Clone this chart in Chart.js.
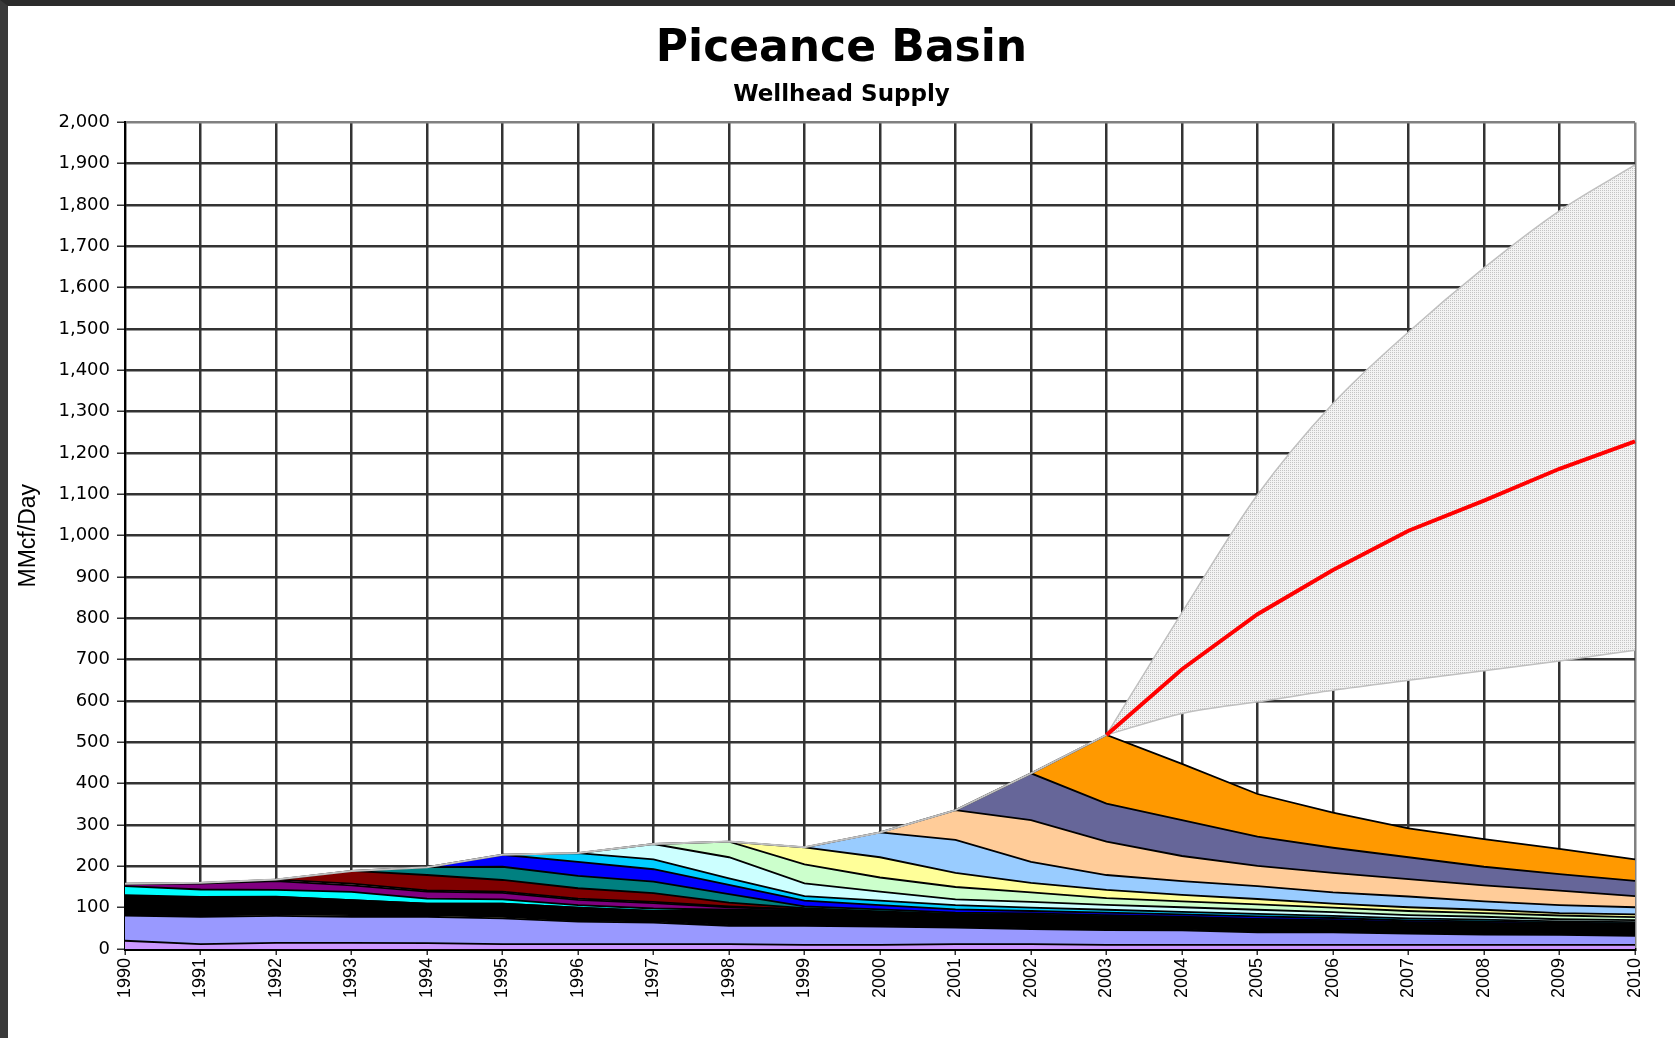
<!DOCTYPE html>
<html>
<head>
<meta charset="utf-8">
<title>Piceance Basin</title>
<script src="https://cdn.jsdelivr.net/npm/chart.js@4.4.1/dist/chart.umd.min.js"></script>
<style>
  html, body { margin: 0; padding: 0; background: #fff; }
  #frame {
    width: 1675px; height: 1038px; box-sizing: border-box;
    border-top: 6px solid #2b2b2b; border-left: 8px solid #3a3a3a;
    background: #fff;
  }
  #wrap { position: relative; width: 1667px; height: 1032px; }
</style>
</head>
<body>
<div id="frame"><div id="wrap"><canvas id="chart"></canvas></div></div>
<script>
// years on the x axis
const years = ['1990', '1991', '1992', '1993', '1994', '1995', '1996', '1997', '1998', '1999', '2000',
               '2001', '2002', '2003', '2004', '2005', '2006', '2007', '2008', '2009', '2010'];

// stacked production layers, bottom to top (MMcf/Day)
const lavender    = [20, 12, 15, 15, 14, 12, 12, 12, 12, 10, 10, 12, 12, 10, 10, 10, 10, 10, 10, 10, 10];
const periwinkle  = [61, 66, 65, 63, 64, 62, 54, 52, 44, 46, 44, 40, 36, 36, 35, 30, 30, 27, 25, 24, 22];
const paleYellow  = [3, 3, 4, 4, 4, 4, 3, 3, 2, 2, 2, 2, 2, 2, 2, 2, 2, 2, 2, 2, 2];
const olderWells  = [43, 44, 42, 36, 28, 32, 31, 25, 34, 34, 30, 26, 28, 26, 24, 24, 21, 21, 21, 20, 21];
const yellow      = [3, 1, 0.5, 0, 0, 0, 0, 0, 0, 0, 0, 0, 0, 0, 0, 0, 0, 0, 0, 0, 0];
const cyan        = [22, 18, 16.5, 20, 12, 10, 6, 6, 3, 1, 1, 1, 1, 1, 1, 1, 1, 1, 1, 1, 1];
const purple      = [5, 14, 21, 16, 17, 16, 13, 13, 6, 2, 1, 1, 1, 1, 1, 1, 1, 1, 0.5, 0.5, 0.5];
const pink        = [1, 2, 4, 4, 3, 3, 3, 3, 2, 1, 1, 1, 1, 1, 1, 1, 1, 0.5, 0.5, 0.5, 0.5];
const maroon      = [null, null, 0, 31, 37, 28, 25, 21, 9, 3, 2, 2, 2, 2, 1, 1, 1, 0.5, 1, 1, 1];
const teal        = [null, null, null, 0, 19, 32, 30, 28, 21, 4, 5, 3, 3, 3, 3, 3, 3, 2, 2, 2, 2];
const blue        = [null, null, null, null, 0, 29, 34, 30, 22, 14, 10, 8, 6, 6, 6, 6, 5, 4, 4, 3, 2];
const skyBlue     = [null, null, null, null, null, 0, 21, 24, 16, 11, 11, 10, 8, 7, 6, 6, 5, 5, 4, 3, 3];
const lightCyan   = [null, null, null, null, null, null, 0, 37, 51, 31, 22, 14, 14, 12, 11, 10, 9, 8, 7, 5, 5];
const lightGreen  = [null, null, null, null, null, null, null, 0, 38, 46, 34, 30, 23, 16, 14, 13, 11, 10, 9, 9, 7];
const lightYellow = [null, null, null, null, null, null, null, null, 0, 41, 49, 34, 23, 20, 16, 13, 10, 9, 8, 6, 7];
const lightBlue   = [null, null, null, null, null, null, null, null, null, 0, 60, 80, 51, 36, 33, 31, 27, 26, 20, 19, 17];
const peach       = [null, null, null, null, null, null, null, null, null, null, 0, 72, 101, 81, 61, 49, 47, 42, 39, 35, 27];
const slate       = [null, null, null, null, null, null, null, null, null, null, null, 0, 113, 92, 87, 71, 61, 53, 45, 40, 37];
const orange      = [null, null, null, null, null, null, null, null, null, null, null, null, 0, 166, 136, 103, 85, 70, 67, 61, 52];

// total line and forecast range
const historyTotal = [158, 160, 168, 189, 198, 228, 232, 254, 260, 246, 282, 336, 425, 518, null, null, null, null, null, null, null];
const forecastLow  = [null, null, null, null, null, null, null, null, null, null, null, null, null, 518, 570, 598, 626, 650, 673, 697, 723];
const forecastMid  = [null, null, null, null, null, null, null, null, null, null, null, null, null, 518, 677, 810, 917, 1012, 1085, 1162, 1228];
const forecastHigh = [null, null, null, null, null, null, null, null, null, null, null, null, null, 518, 814, 1099, 1320, 1493, 1648, 1786, 1897];

const yTicks = { min: 0, max: 2000, step: 100 };

const layers = [
    [lavender, '#cc99ff'], [periwinkle, '#9999ff'], [paleYellow, '#ffffcc'], [olderWells, '#000000'],
    [yellow, '#ffff00'], [cyan, '#00ffff'], [purple, '#800080'], [pink, '#ff99cc'], [maroon, '#800000'],
    [teal, '#008080'], [blue, '#0000ff'], [skyBlue, '#00ccff'], [lightCyan, '#ccffff'], [lightGreen, '#ccffcc'],
    [lightYellow, '#ffff99'], [lightBlue, '#99ccff'], [peach, '#ffcc99'], [slate, '#666699'], [orange, '#ff9900']
];

const canvas = document.getElementById('chart');
const ctx = canvas.getContext('2d');

// light gray stipple for the forecast range
const tile = document.createElement('canvas');
tile.width = 2; tile.height = 2;
const tg = tile.getContext('2d');
tg.fillStyle = '#f3f3f3'; tg.fillRect(0, 0, 2, 2);
tg.fillStyle = '#c4c4c4'; tg.fillRect(0, 0, 1, 1);
const stipple = ctx.createPattern(tile, 'repeat');

const datasets = layers.map(([data, color], i) => ({
    data: data,
    backgroundColor: color,
    borderColor: '#000',
    borderWidth: 1.8,
    fill: i === 0 ? 'origin' : '-1',
    pointRadius: 0,
    tension: 0
}));

const lowIndex = datasets.length + 1;
datasets.push(
    { data: historyTotal, yAxisID: 'y2', borderColor: '#c0c0c0', borderWidth: 2, fill: false, pointRadius: 0, order: -1 },
    { data: forecastLow, yAxisID: 'y2', borderColor: '#c0c0c0', borderWidth: 1.5, fill: false, pointRadius: 0,
      cubicInterpolationMode: 'monotone', order: -1 },
    { data: forecastHigh, yAxisID: 'y2', borderColor: '#c0c0c0', borderWidth: 1.5, backgroundColor: stipple,
      fill: { target: lowIndex }, pointRadius: 0, cubicInterpolationMode: 'monotone', order: -1 },
    { data: forecastMid, yAxisID: 'y2', borderColor: '#ff0000', borderWidth: 4, fill: false, pointRadius: 0, order: -2 }
);

new Chart(ctx, {
    type: 'line',
    data: { labels: years, datasets: datasets },
    options: {
        responsive: true,
        maintainAspectRatio: false,
        animation: false,
        layout: { padding: { left: 40, right: 40, top: 0, bottom: 0 } },
        plugins: {
            legend: { display: false },
            tooltip: { enabled: false },
            title: {
                display: true,
                text: 'Piceance Basin',
                color: '#000',
                font: { family: 'DejaVu Sans', size: 44, weight: 'bold' },
                padding: { top: 17, bottom: 0 }
            },
            subtitle: {
                display: true,
                text: 'Wellhead Supply',
                color: '#000',
                font: { family: 'DejaVu Sans', size: 23, weight: 'bold' },
                padding: { top: 5.4, bottom: 13.6 }
            }
        },
        scales: {
            x: {
                offset: false,
                afterFit: (s) => { s.height = 89; },
                grid: {
                    color: (c) => c.index === years.length - 1 ? '#808080' : '#333',
                    lineWidth: 2.5,
                    tickLength: 6,
                    tickColor: '#333',
                    tickWidth: 1.5
                },
                border: { display: true, color: '#000', width: 3 },
                ticks: {
                    autoSkip: false,
                    minRotation: 90,
                    maxRotation: 90,
                    padding: 3,
                    color: '#000',
                    font: { family: 'Liberation Sans', size: 18 }
                }
            },
            y: {
                stacked: true,
                min: yTicks.min,
                max: yTicks.max,
                afterFit: (s) => { s.width = 77; },
                grid: {
                    color: (c) => c.tick && c.tick.value === yTicks.max ? '#808080' : '#333',
                    lineWidth: 2.5,
                    tickLength: 8,
                    tickColor: '#333',
                    tickWidth: 1.5
                },
                border: { display: true, color: '#000', width: 2 },
                ticks: {
                    stepSize: yTicks.step,
                    padding: 7,
                    color: '#000',
                    font: { family: 'DejaVu Sans', size: 18 },
                    callback: (v) => v.toLocaleString('en-US')
                },
                title: {
                    display: true,
                    text: 'MMcf/Day',
                    color: '#000',
                    font: { family: 'Liberation Sans', size: 23 },
                    padding: { top: -33, bottom: 0 }
                }
            },
            y2: {
                display: false,
                min: yTicks.min,
                max: yTicks.max
            }
        }
    }
});
</script>
</body>
</html>
